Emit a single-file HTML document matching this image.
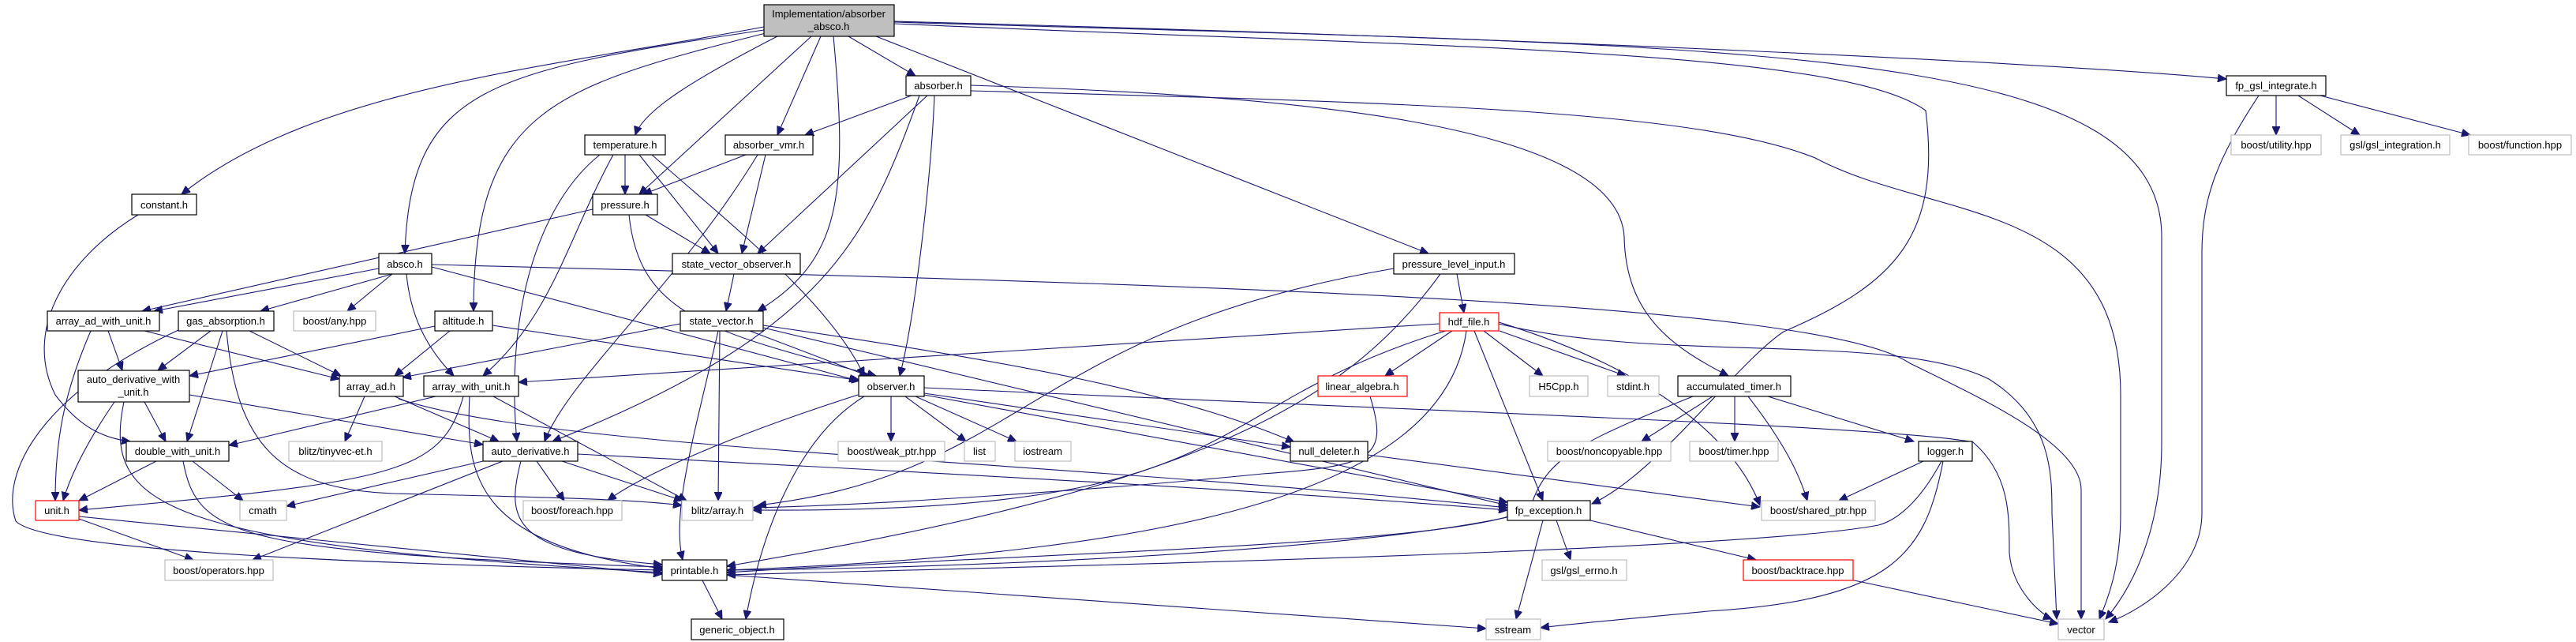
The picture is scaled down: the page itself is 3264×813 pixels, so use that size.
<!DOCTYPE html>
<html><head><meta charset="utf-8"><style>
html,body{margin:0;padding:0;background:#fff;}
svg{display:block;}
text{font-family:"Liberation Sans",Arial,sans-serif;font-size:13px;text-anchor:middle;fill:#000;}
.n{fill:#fff;stroke:#000;stroke-width:1.2;}
.g{fill:#fff;stroke:#bfbfbf;stroke-width:1.2;}
.r{fill:#fff;stroke:#ff0000;stroke-width:1.2;}
path{fill:none;stroke:#191970;stroke-width:1.1;}
</style></head><body>
<svg width="3264" height="813" viewBox="0 0 3264 813" xmlns="http://www.w3.org/2000/svg">
<defs><marker id="a" markerUnits="userSpaceOnUse" markerWidth="12" markerHeight="10" refX="11" refY="5" orient="auto"><path d="M0,0 L11,5 L0,10 Z" style="fill:#191970;stroke:#191970;stroke-width:1"/></marker></defs>
<g marker-end="url(#a)">
<!-- root -->
<path d="M968,34 C700,85 400,110 230,246"/>
<path d="M968,38 C620,90 520,110 513,321"/>
<path d="M970,42 C700,110 600,140 600,394"/>
<path d="M985,46 C880,100 815,140 805,171"/>
<path d="M1028,46 L810,246"/>
<path d="M1040,46 L985,171"/>
<path d="M1056,46 C1075,250 1065,330 960,394"/>
<path d="M1075,46 L1160,96"/>
<path d="M1110,46 L1810,321"/>
<path d="M1133,27 C2000,50 2600,80 2821,100"/>
<path d="M1133,28 C2200,60 2739,50 2739,300 L2739,560 C2739,700 2680,770 2668,784"/>
<path d="M1133,30 C1800,60 2330,60 2440,140 C2460,300 2400,360 2260,420 C2200,460 2100,600 2017,638"/>
<!-- absorber -->
<path d="M1155,121 L1020,171"/>
<path d="M1175,121 L960,321"/>
<path d="M1184,121 C1180,220 1160,400 1140,476"/>
<path d="M1165,121 C1100,300 1050,420 700,559"/>
<path d="M1230,108 C1600,120 2050,150 2058,300 C2060,400 2120,440 2190,476"/>
<path d="M1230,115 C1800,130 2150,140 2300,200 C2450,280 2687,250 2687,500 L2687,650 C2687,720 2670,760 2660,784"/>
<!-- temperature -->
<path d="M792,196 L792,246"/>
<path d="M810,196 L910,321"/>
<path d="M826,196 C920,280 1050,380 1095,476"/>
<path d="M760,196 C680,260 640,400 655,559"/>
<path d="M777,196 C720,300 700,400 612,476"/>
<!-- absorber_vmr -->
<path d="M945,196 L815,246"/>
<path d="M970,196 L940,321"/>
<path d="M960,196 C860,360 720,480 690,559"/>
<!-- constant -->
<path d="M175,272 C80,330 30,420 70,500 C100,540 130,555 165,559"/>
<!-- pressure -->
<path d="M751,265 L180,394"/>
<path d="M818,272 L900,321"/>
<path d="M797,272 C810,400 900,420 1110,476"/>
<!-- absco -->
<path d="M480,340 L195,394"/>
<path d="M497,347 L330,394"/>
<path d="M497,347 L440,394"/>
<path d="M515,347 C520,400 540,440 575,476"/>
<path d="M547,338 L1087,482"/>
<path d="M547,335 C1500,360 2300,380 2420,460 C2500,500 2637,560 2637,620 L2637,784"/>
<!-- altitude -->
<path d="M570,419 L500,476"/>
<path d="M551,413 L240,476"/>
<path d="M624,412 L1090,482"/>
<!-- state_vector -->
<path d="M862,410 L510,478"/>
<path d="M950,419 L1100,476"/>
<path d="M910,419 C880,550 850,650 865,709"/>
<path d="M912,419 L910,634"/>
<path d="M967,415 L1910,640"/>
<path d="M967,412 C1300,460 1500,500 1640,560"/>
<!-- svo -->
<path d="M930,347 L920,394"/>
<!-- pli -->
<path d="M1846,347 L1855,396"/>
<path d="M1766,340 C1300,420 1300,600 960,640"/>
<path d="M1825,347 C1700,520 1500,620 921,717"/>
<!-- hdf -->
<path d="M1824,410 L657,484"/>
<path d="M1840,419 L1755,476"/>
<path d="M1880,419 L1955,476"/>
<path d="M1900,419 L2060,476"/>
<path d="M1868,419 L1955,634"/>
<path d="M1858,419 C1830,620 1500,700 921,722"/>
<path d="M1835,418 C1500,520 1600,650 954,646"/>
<path d="M1899,408 C2100,470 2200,560 2230,640"/>
<path d="M1899,410 C2100,460 2400,420 2520,480 C2600,530 2600,600 2600,650 L2606,784"/>
<!-- aawu -->
<path d="M137,419 L155,469"/>
<path d="M115,419 C80,500 70,560 70,634"/>
<path d="M183,419 L430,480"/>
<!-- gas_abs -->
<path d="M267,419 L200,469"/>
<path d="M282,419 L237,559"/>
<path d="M316,419 L432,476"/>
<path d="M226,418 C50,500 0,600 20,660 C60,700 500,715 839,722"/>
<path d="M287,419 C300,560 350,620 500,625 C700,630 800,632 864,640"/>
<!-- adwu -->
<path d="M183,509 L210,559"/>
<path d="M145,509 C110,560 90,600 80,634"/>
<path d="M240,500 L612,563"/>
<path d="M157,509 C130,640 200,690 839,725"/>
<!-- array_ad -->
<path d="M462,502 L437,559"/>
<path d="M500,502 L632,559"/>
<path d="M505,505 C700,570 1300,580 1910,643"/>
<!-- awu -->
<path d="M552,502 L290,564"/>
<path d="M587,502 C560,600 500,610 100,646"/>
<path d="M595,502 C590,600 600,690 839,720"/>
<path d="M625,502 L870,634"/>
<!-- dwu -->
<path d="M198,584 L100,634"/>
<path d="M244,584 L308,634"/>
<path d="M232,584 C250,680 300,700 839,718"/>
<!-- auto_derivative -->
<path d="M612,584 L363,641"/>
<path d="M637,584 L320,709"/>
<path d="M660,584 C640,660 650,700 839,715"/>
<path d="M680,584 L715,634"/>
<path d="M712,584 L865,634"/>
<path d="M732,575 C1200,600 1600,620 1910,646"/>
<!-- observer -->
<path d="M1129,502 L1129,559"/>
<path d="M1147,502 L1224,559"/>
<path d="M1160,502 L1288,559"/>
<path d="M1171,498 L1635,566"/>
<path d="M1171,500 L1910,636"/>
<path d="M1171,491 C1800,520 2400,540 2500,560 C2546,600 2546,650 2546,700 C2550,750 2590,780 2600,784"/>
<path d="M1087,500 C900,560 800,610 770,634"/>
<path d="M1095,502 C1000,560 960,700 945,784"/>
<!-- linear_algebra -->
<path d="M1736,502 C1760,580 1740,590 1600,600 C1400,620 1100,640 954,643"/>
<!-- acc_timer -->
<path d="M2170,502 L2080,559"/>
<path d="M2198,502 L2198,559"/>
<path d="M2240,502 L2425,559"/>
<path d="M2215,502 C2260,560 2280,600 2290,634"/>
<path d="M2145,502 C2000,560 1960,580 1940,640 C1900,690 1300,700 921,725"/>
<!-- null_deleter -->
<path d="M1733,576 L2230,642"/>
<!-- fp_exc -->
<path d="M1972,659 L1990,709"/>
<path d="M1955,659 L1921,784"/>
<path d="M2015,659 L2225,709"/>
<path d="M1910,655 C1700,700 1200,720 921,722"/>
<!-- logger -->
<path d="M2437,584 L2330,634"/>
<path d="M2460,584 C2430,640 2400,660 2380,665 C2200,700 1200,720 921,728"/>
<path d="M2462,584 C2440,700 2400,760 2164,774 C2050,785 1990,790 1952,795"/>
<!-- printable -->
<path d="M890,735 L915,784"/>
<path d="M921,728 L1883,796"/>
<!-- unit -->
<path d="M100,657 L245,709"/>
<path d="M100,654 L839,727"/>
<!-- backtrace -->
<path d="M2340,733 L2608,790"/>
<!-- fp_gsl -->
<path d="M2884,121 L2884,171"/>
<path d="M2912,121 L2990,171"/>
<path d="M2940,121 L3130,171"/>
<path d="M2862,121 C2810,200 2790,250 2790,320 L2790,650 C2790,720 2720,770 2672,788"/>
</g>
<!-- nodes -->
<rect x="968" y="6" width="165" height="40" style="fill:#bfbfbf;stroke:#000;stroke-width:1.2"/>
<text x="1050" y="22">Implementation/absorber</text><text x="1050" y="38">_absco.h</text>
<rect class="n" x="167" y="246" width="82" height="26"/><text x="208" y="264">constant.h</text>
<rect class="n" x="480" y="321" width="67" height="26"/><text x="513" y="339">absco.h</text>
<rect class="n" x="551" y="394" width="73" height="25"/><text x="587" y="411">altitude.h</text>
<rect class="n" x="741" y="171" width="102" height="25"/><text x="792" y="188">temperature.h</text>
<rect class="n" x="919" y="171" width="111" height="25"/><text x="974" y="188">absorber_vmr.h</text>
<rect class="n" x="751" y="246" width="82" height="26"/><text x="792" y="264">pressure.h</text>
<rect class="n" x="852" y="321" width="162" height="26"/><text x="933" y="339">state_vector_observer.h</text>
<rect class="n" x="862" y="394" width="105" height="25"/><text x="914" y="411">state_vector.h</text>
<rect class="n" x="1148" y="96" width="82" height="25"/><text x="1189" y="113">absorber.h</text>
<rect class="n" x="1766" y="321" width="153" height="26"/><text x="1842" y="339">pressure_level_input.h</text>
<rect class="r" x="1824" y="396" width="75" height="23"/><text x="1861" y="412">hdf_file.h</text>
<rect class="n" x="2821" y="96" width="126" height="25"/><text x="2884" y="113">fp_gsl_integrate.h</text>
<rect class="n" x="60" y="394" width="142" height="25"/><text x="131" y="411">array_ad_with_unit.h</text>
<rect class="n" x="226" y="394" width="121" height="25"/><text x="286" y="411">gas_absorption.h</text>
<rect class="g" x="372" y="394" width="104" height="25"/><text x="424" y="411">boost/any.hpp</text>
<rect class="n" x="99" y="469" width="141" height="40"/><text x="169" y="485">auto_derivative_with</text><text x="169" y="501">_unit.h</text>
<rect class="n" x="430" y="476" width="81" height="26"/><text x="470" y="494">array_ad.h</text>
<rect class="n" x="537" y="476" width="120" height="26"/><text x="597" y="494">array_with_unit.h</text>
<rect class="n" x="1088" y="476" width="83" height="26"/><text x="1129" y="494">observer.h</text>
<rect class="r" x="1670" y="476" width="113" height="26"/><text x="1726" y="494">linear_algebra.h</text>
<rect class="g" x="1938" y="476" width="74" height="26"/><text x="1975" y="494">H5Cpp.h</text>
<rect class="g" x="2037" y="476" width="65" height="26"/><text x="2069" y="494">stdint.h</text>
<rect class="n" x="2126" y="476" width="143" height="26"/><text x="2197" y="494">accumulated_timer.h</text>
<rect class="n" x="160" y="559" width="130" height="25"/><text x="225" y="576">double_with_unit.h</text>
<rect class="g" x="366" y="559" width="118" height="25"/><text x="425" y="576">blitz/tinyvec-et.h</text>
<rect class="n" x="612" y="559" width="120" height="25"/><text x="672" y="576">auto_derivative.h</text>
<rect class="g" x="1062" y="559" width="135" height="25"/><text x="1130" y="576">boost/weak_ptr.hpp</text>
<rect class="g" x="1222" y="559" width="39" height="25"/><text x="1241" y="576">list</text>
<rect class="g" x="1286" y="559" width="71" height="25"/><text x="1321" y="576">iostream</text>
<rect class="n" x="1635" y="559" width="98" height="25"/><text x="1684" y="576">null_deleter.h</text>
<rect class="g" x="1961" y="559" width="156" height="25"/><text x="2039" y="576">boost/noncopyable.hpp</text>
<rect class="g" x="2141" y="559" width="112" height="25"/><text x="2197" y="576">boost/timer.hpp</text>
<rect class="n" x="2431" y="559" width="68" height="25"/><text x="2465" y="576">logger.h</text>
<rect class="r" x="45" y="634" width="55" height="25"/><text x="72" y="651">unit.h</text>
<rect class="g" x="304" y="634" width="59" height="25"/><text x="333" y="651">cmath</text>
<rect class="g" x="663" y="634" width="125" height="25"/><text x="725" y="651">boost/foreach.hpp</text>
<rect class="g" x="864" y="634" width="90" height="25"/><text x="909" y="651">blitz/array.h</text>
<rect class="n" x="1910" y="634" width="105" height="25"/><text x="1962" y="651">fp_exception.h</text>
<rect class="g" x="2232" y="634" width="144" height="25"/><text x="2304" y="651">boost/shared_ptr.hpp</text>
<rect class="g" x="209" y="709" width="137" height="26"/><text x="277" y="727">boost/operators.hpp</text>
<rect class="n" x="839" y="709" width="82" height="26"/><text x="880" y="727">printable.h</text>
<rect class="g" x="1954" y="709" width="107" height="26"/><text x="2007" y="727">gsl/gsl_errno.h</text>
<rect class="r" x="2209" y="709" width="139" height="26"/><text x="2278" y="727">boost/backtrace.hpp</text>
<rect class="n" x="876" y="784" width="117" height="26"/><text x="934" y="802">generic_object.h</text>
<rect class="g" x="1883" y="784" width="69" height="26"/><text x="1917" y="802">sstream</text>
<rect class="g" x="2608" y="784" width="58" height="26"/><text x="2637" y="802">vector</text>
<rect class="g" x="2827" y="171" width="114" height="25"/><text x="2884" y="188">boost/utility.hpp</text>
<rect class="g" x="2966" y="171" width="138" height="25"/><text x="3035" y="188">gsl/gsl_integration.h</text>
<rect class="g" x="3128" y="171" width="130" height="25"/><text x="3193" y="188">boost/function.hpp</text>
</svg>
</body></html>
